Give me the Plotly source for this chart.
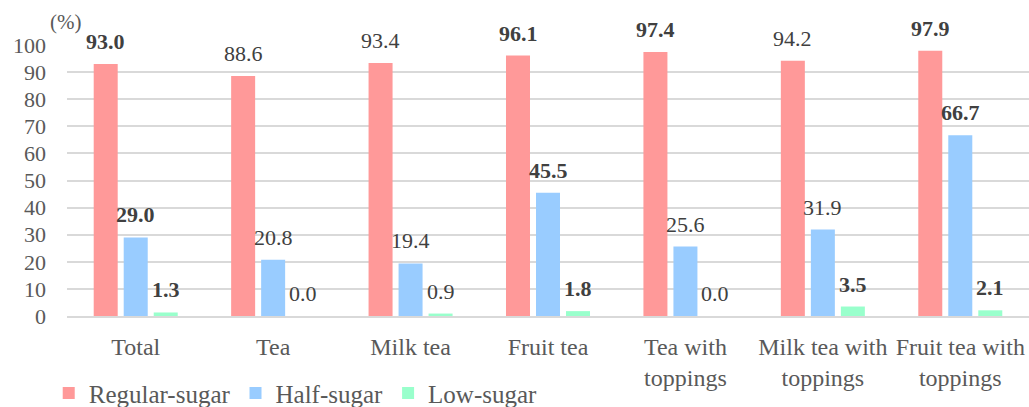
import plotly.graph_objects as go

# Share of drinks ordered at each sugar level, by drink type (%)
categories = ["Total", "Tea", "Milk tea", "Fruit tea", "Tea with<br>toppings",
              "Milk tea with<br>toppings", "Fruit tea with<br>toppings"]
regular_sugar = [93.0, 88.6, 93.4, 96.1, 97.4, 94.2, 97.9]
half_sugar = [29.0, 20.8, 19.4, 45.5, 25.6, 31.9, 66.7]
low_sugar = [1.3, 0.0, 0.9, 1.8, 0.0, 3.5, 2.1]

# which value labels are set in bold
regular_bold = [True, False, False, True, True, False, True]
half_bold = [True, False, False, True, False, False, True]
low_bold = [True, False, False, True, False, True, True]

y_ticks = list(range(0, 101, 10))

FONT = "Liberation Serif"
series = [
    ("Regular-sugar", regular_sugar, regular_bold, "#FF9999"),
    ("Half-sugar", half_sugar, half_bold, "#99CCFF"),
    ("Low-sugar", low_sugar, low_bold, "#99FFCC"),
]

PLOT_L, PLOT_T, PLOT_W, PLOT_H = 67, 45, 962, 271

fig = go.Figure()
for name, vals, _, color in series:
    fig.add_trace(go.Bar(x=categories, y=vals, name=name,
                         marker=dict(color=color, line=dict(width=0))))

# value labels above each bar, shifted to sit over their own bar in the group
annotations = []
for k, (name, vals, bold, _) in enumerate(series):
    for cat, v, b in zip(categories, vals, bold):
        txt = f"{v:.1f}"
        annotations.append(dict(
            x=cat, y=v, xref="x", yref="y", text=f"<b>{txt}</b>" if b else txt,
            showarrow=False, yanchor="bottom", xanchor="center",
            xshift=(k - 1) * 30, yshift=8,
            font=dict(family=FONT, size=22, color="#404040")))

# unit label above the value axis
annotations.append(dict(
    x=(65 - PLOT_L) / PLOT_W, y=(PLOT_T + PLOT_H - 22) / PLOT_H,
    xref="paper", yref="paper", xanchor="center", yanchor="middle",
    text="(%)", showarrow=False,
    font=dict(family=FONT, size=21, color="#595959")))

fig.update_layout(
    width=1029, height=407,
    margin=dict(l=PLOT_L, r=0, t=PLOT_T, b=407 - PLOT_T - PLOT_H, autoexpand=False),
    paper_bgcolor="white", plot_bgcolor="white",
    barmode="group", bargap=0.345, bargroupgap=0.2,
    font=dict(family=FONT, color="#595959"),
    annotations=annotations,
    showlegend=True,
    legend=dict(orientation="h", x=-0.019, xanchor="left", y=-0.2, yanchor="top",
                font=dict(family=FONT, size=25, color="#595959"),
                bgcolor="rgba(0,0,0,0)"),
    xaxis=dict(type="category", showgrid=False, ticks="", automargin=False,
               showline=True, linecolor="#d9d9d9", linewidth=2,
               ticklabelstandoff=8,
               tickfont=dict(family=FONT, size=24, color="#595959")),
    yaxis=dict(range=[0, 100], tickvals=y_ticks, showgrid=True, automargin=False,
               gridcolor="#d9d9d9", gridwidth=2, zeroline=False,
               ticks="", ticklabelstandoff=20,
               tickfont=dict(family=FONT, size=22, color="#595959")),
)

fig.write_html("out.html")
